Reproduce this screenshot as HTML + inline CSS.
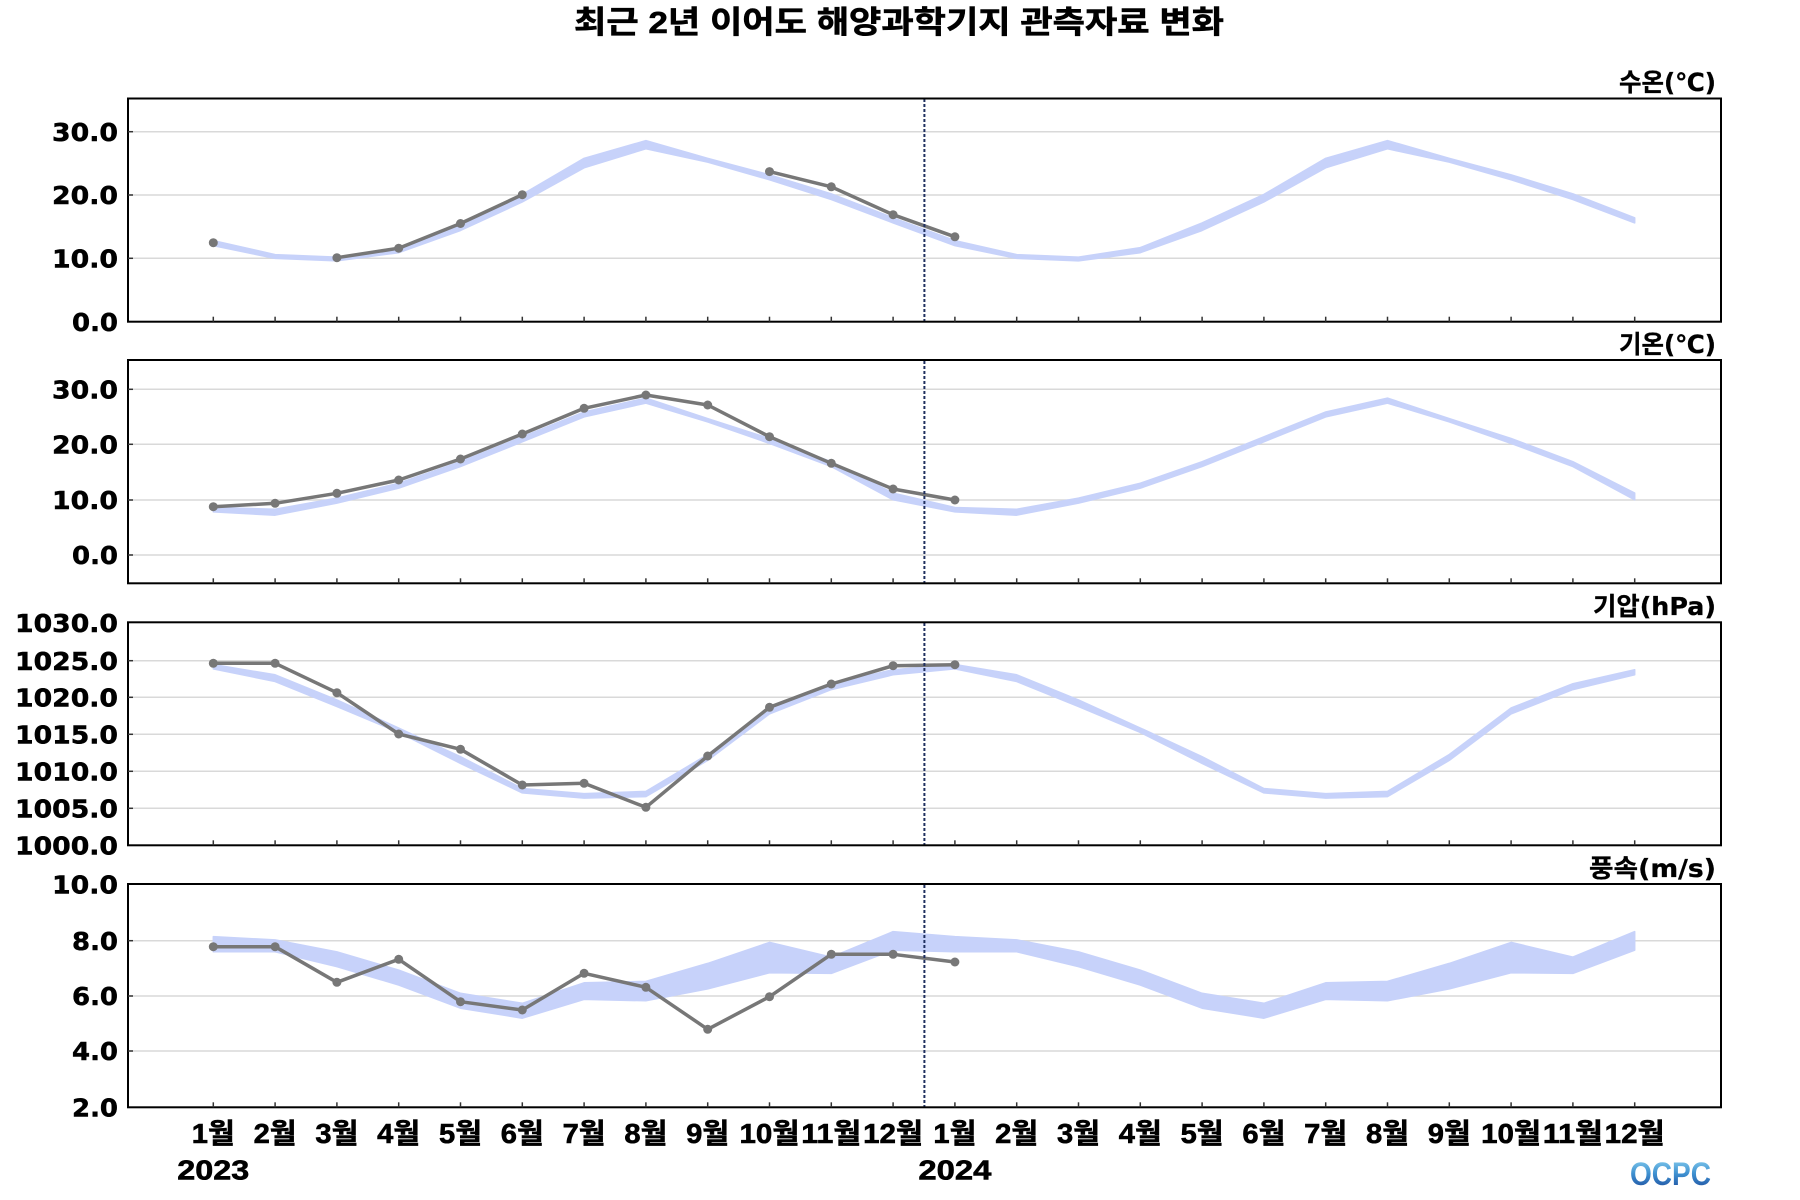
<!DOCTYPE html>
<html>
<head>
<meta charset="utf-8">
<style>
html,body{margin:0;padding:0;background:#fff;}
svg{display:block;}
.yl{font-family:"DejaVu Sans","Liberation Sans",sans-serif;font-weight:bold;font-size:25px;fill:#000;stroke:#000;stroke-width:0.5;}
.ml{font-family:"Liberation Sans","Noto Sans CJK KR",sans-serif;font-weight:bold;font-size:28px;fill:#000;stroke:#000;stroke-width:0.6;}
.ul{font-family:"DejaVu Sans","Noto Sans CJK KR",sans-serif;font-weight:bold;font-size:25px;fill:#000;stroke:#000;stroke-width:0.3;}
.tt{font-family:"Liberation Sans","Noto Sans CJK KR",sans-serif;font-weight:bold;font-size:31px;fill:#000;stroke:#000;stroke-width:0.6;}
.band{fill:#c7d2fa;stroke:#c7d2fa;stroke-width:1.5;stroke-linejoin:round;}
.obs{fill:none;stroke:#777;stroke-width:3.5;stroke-linejoin:round;}
.grid{stroke:#d9d9d9;stroke-width:1.5;}
.frame{fill:none;stroke:#000;stroke-width:2;}
.tick{stroke:#333;stroke-width:1.5;}
.vdot{stroke:#1f2f5f;stroke-width:2;stroke-dasharray:3 2;}
</style>
</head>
<body>
<svg width="1800" height="1200" viewBox="0 0 1800 1200" xmlns="http://www.w3.org/2000/svg">
<defs>
<linearGradient id="lg" x1="0" y1="0" x2="0" y2="1">
<stop offset="0" stop-color="#8fd6f2"/>
<stop offset="0.5" stop-color="#3d8fd0"/>
<stop offset="1" stop-color="#1a4596"/>
</linearGradient>
</defs>

<!-- Title -->
<text class="tt" x="899" y="33" text-anchor="middle" textLength="650" lengthAdjust="spacingAndGlyphs">최근 2년 이어도 해양과학기지 관측자료 변화</text>

<!-- ================= Panel 1 ================= -->
<g>
<line class="grid" x1="128" y1="131.7" x2="1721" y2="131.7"/>
<line class="grid" x1="128" y1="195" x2="1721" y2="195"/>
<line class="grid" x1="128" y1="258.3" x2="1721" y2="258.3"/>
<polygon class="band" points="213.3,240.6 275.1,254.6 336.9,257.1 398.7,247.6 460.5,222.9 522.3,194.4 584.1,158.3 645.9,140.6 707.7,158.3 769.5,174.8 831.3,193.8 893.1,217.8 954.9,240.6 1016.7,254.6 1078.5,257.1 1140.3,247.6 1202.1,222.9 1263.9,194.4 1325.7,158.3 1387.5,140.6 1449.3,158.3 1511.1,174.8 1572.9,193.8 1634.7,217.8 1634.7,222.9 1572.9,199.5 1511.1,179.8 1449.3,162.1 1387.5,148.8 1325.7,167.8 1263.9,202.0 1202.1,230.5 1140.3,252.7 1078.5,260.9 1016.7,258.4 954.9,245.7 893.1,222.9 831.3,199.5 769.5,179.8 707.7,162.1 645.9,148.8 584.1,167.8 522.3,202.0 460.5,230.5 398.7,252.7 336.9,260.9 275.1,258.4 213.3,245.7"/>
<polyline class="obs" points="336.9,257.7 398.7,248.2 460.5,223.5 522.3,194.7"/>
<polyline class="obs" points="769.5,171.6 831.3,186.8 893.1,214.7 954.9,236.8"/>
<g fill="#777">
<circle cx="213.3" cy="242.7" r="4.5"/>
<circle cx="336.9" cy="257.7" r="4.5"/>
<circle cx="398.7" cy="248.2" r="4.5"/>
<circle cx="460.5" cy="223.5" r="4.5"/>
<circle cx="522.3" cy="194.7" r="4.5"/>
<circle cx="769.5" cy="171.6" r="4.5"/>
<circle cx="831.3" cy="186.8" r="4.5"/>
<circle cx="893.1" cy="214.7" r="4.5"/>
<circle cx="954.9" cy="236.8" r="4.5"/>
</g>
<line class="vdot" x1="924.4" y1="99" x2="924.4" y2="321"/>
<rect class="frame" x="128" y="98.5" width="1593" height="223.2"/>
<g class="tick">
<line x1="213.3" y1="316.7" x2="213.3" y2="321.7"/><line x1="275.1" y1="316.7" x2="275.1" y2="321.7"/><line x1="336.9" y1="316.7" x2="336.9" y2="321.7"/><line x1="398.7" y1="316.7" x2="398.7" y2="321.7"/><line x1="460.5" y1="316.7" x2="460.5" y2="321.7"/><line x1="522.3" y1="316.7" x2="522.3" y2="321.7"/><line x1="584.1" y1="316.7" x2="584.1" y2="321.7"/><line x1="645.9" y1="316.7" x2="645.9" y2="321.7"/><line x1="707.7" y1="316.7" x2="707.7" y2="321.7"/><line x1="769.5" y1="316.7" x2="769.5" y2="321.7"/><line x1="831.3" y1="316.7" x2="831.3" y2="321.7"/><line x1="893.1" y1="316.7" x2="893.1" y2="321.7"/><line x1="954.9" y1="316.7" x2="954.9" y2="321.7"/><line x1="1016.7" y1="316.7" x2="1016.7" y2="321.7"/><line x1="1078.5" y1="316.7" x2="1078.5" y2="321.7"/><line x1="1140.3" y1="316.7" x2="1140.3" y2="321.7"/><line x1="1202.1" y1="316.7" x2="1202.1" y2="321.7"/><line x1="1263.9" y1="316.7" x2="1263.9" y2="321.7"/><line x1="1325.7" y1="316.7" x2="1325.7" y2="321.7"/><line x1="1387.5" y1="316.7" x2="1387.5" y2="321.7"/><line x1="1449.3" y1="316.7" x2="1449.3" y2="321.7"/><line x1="1511.1" y1="316.7" x2="1511.1" y2="321.7"/><line x1="1572.9" y1="316.7" x2="1572.9" y2="321.7"/><line x1="1634.7" y1="316.7" x2="1634.7" y2="321.7"/>
<line x1="128" y1="131.7" x2="133" y2="131.7"/><line x1="128" y1="195" x2="133" y2="195"/><line x1="128" y1="258.3" x2="133" y2="258.3"/>
</g>
<text class="yl" x="118" y="140.8" text-anchor="end" textLength="66" lengthAdjust="spacingAndGlyphs">30.0</text>
<text class="yl" x="118" y="204.1" text-anchor="end" textLength="66" lengthAdjust="spacingAndGlyphs">20.0</text>
<text class="yl" x="118" y="267.4" text-anchor="end" textLength="66" lengthAdjust="spacingAndGlyphs">10.0</text>
<text class="yl" x="118" y="330.8" text-anchor="end" textLength="46" lengthAdjust="spacingAndGlyphs">0.0</text>
<text class="ul" x="1716" y="91" text-anchor="end" textLength="97" lengthAdjust="spacingAndGlyphs">수온(℃)</text>
</g>

<!-- ================= Panel 2 ================= -->
<g>
<line class="grid" x1="128" y1="389.3" x2="1721" y2="389.3"/>
<line class="grid" x1="128" y1="444.3" x2="1721" y2="444.3"/>
<line class="grid" x1="128" y1="500" x2="1721" y2="500"/>
<line class="grid" x1="128" y1="555" x2="1721" y2="555"/>
<polygon class="band" points="213.3,507.5 275.1,509.2 336.9,498.1 398.7,483.2 460.5,461.7 522.3,436.8 584.1,412.0 645.9,398.1 707.7,418.6 769.5,438.5 831.3,461.7 893.1,493.1 954.9,507.5 1016.7,509.2 1078.5,498.1 1140.3,483.2 1202.1,461.7 1263.9,436.8 1325.7,412.0 1387.5,398.1 1449.3,418.6 1511.1,438.5 1572.9,461.7 1634.7,493.1 1634.7,499.8 1572.9,466.6 1511.1,443.4 1449.3,421.9 1387.5,403.1 1325.7,416.9 1263.9,441.8 1202.1,466.6 1140.3,488.2 1078.5,503.1 1016.7,515.2 954.9,511.9 893.1,499.8 831.3,466.6 769.5,443.4 707.7,421.9 645.9,403.1 584.1,416.9 522.3,441.8 460.5,466.6 398.7,488.2 336.9,503.1 275.1,515.2 213.3,511.9"/>
<polyline class="obs" points="213.3,506.7 275.1,503.3 336.9,493.3 398.7,480 460.5,459 522.3,434 584.1,408.3 645.9,395 707.7,405 769.5,436.7 831.3,463.3 893.1,489 954.9,500"/>
<g fill="#777">
<circle cx="213.3" cy="506.7" r="4.5"/><circle cx="275.1" cy="503.3" r="4.5"/><circle cx="336.9" cy="493.3" r="4.5"/><circle cx="398.7" cy="480" r="4.5"/><circle cx="460.5" cy="459" r="4.5"/><circle cx="522.3" cy="434" r="4.5"/><circle cx="584.1" cy="408.3" r="4.5"/><circle cx="645.9" cy="395" r="4.5"/><circle cx="707.7" cy="405" r="4.5"/><circle cx="769.5" cy="436.7" r="4.5"/><circle cx="831.3" cy="463.3" r="4.5"/><circle cx="893.1" cy="489" r="4.5"/><circle cx="954.9" cy="500" r="4.5"/>
</g>
<line class="vdot" x1="924.4" y1="361" x2="924.4" y2="583"/>
<rect class="frame" x="128" y="360" width="1593" height="223.3"/>
<g class="tick">
<line x1="213.3" y1="578.3" x2="213.3" y2="583.3"/><line x1="275.1" y1="578.3" x2="275.1" y2="583.3"/><line x1="336.9" y1="578.3" x2="336.9" y2="583.3"/><line x1="398.7" y1="578.3" x2="398.7" y2="583.3"/><line x1="460.5" y1="578.3" x2="460.5" y2="583.3"/><line x1="522.3" y1="578.3" x2="522.3" y2="583.3"/><line x1="584.1" y1="578.3" x2="584.1" y2="583.3"/><line x1="645.9" y1="578.3" x2="645.9" y2="583.3"/><line x1="707.7" y1="578.3" x2="707.7" y2="583.3"/><line x1="769.5" y1="578.3" x2="769.5" y2="583.3"/><line x1="831.3" y1="578.3" x2="831.3" y2="583.3"/><line x1="893.1" y1="578.3" x2="893.1" y2="583.3"/><line x1="954.9" y1="578.3" x2="954.9" y2="583.3"/><line x1="1016.7" y1="578.3" x2="1016.7" y2="583.3"/><line x1="1078.5" y1="578.3" x2="1078.5" y2="583.3"/><line x1="1140.3" y1="578.3" x2="1140.3" y2="583.3"/><line x1="1202.1" y1="578.3" x2="1202.1" y2="583.3"/><line x1="1263.9" y1="578.3" x2="1263.9" y2="583.3"/><line x1="1325.7" y1="578.3" x2="1325.7" y2="583.3"/><line x1="1387.5" y1="578.3" x2="1387.5" y2="583.3"/><line x1="1449.3" y1="578.3" x2="1449.3" y2="583.3"/><line x1="1511.1" y1="578.3" x2="1511.1" y2="583.3"/><line x1="1572.9" y1="578.3" x2="1572.9" y2="583.3"/><line x1="1634.7" y1="578.3" x2="1634.7" y2="583.3"/>
<line x1="128" y1="389.3" x2="133" y2="389.3"/><line x1="128" y1="444.3" x2="133" y2="444.3"/><line x1="128" y1="500" x2="133" y2="500"/><line x1="128" y1="555" x2="133" y2="555"/>
</g>
<text class="yl" x="118" y="398.4" text-anchor="end" textLength="66" lengthAdjust="spacingAndGlyphs">30.0</text>
<text class="yl" x="118" y="453.4" text-anchor="end" textLength="66" lengthAdjust="spacingAndGlyphs">20.0</text>
<text class="yl" x="118" y="509.1" text-anchor="end" textLength="66" lengthAdjust="spacingAndGlyphs">10.0</text>
<text class="yl" x="118" y="564.1" text-anchor="end" textLength="46" lengthAdjust="spacingAndGlyphs">0.0</text>
<text class="ul" x="1716" y="353" text-anchor="end" textLength="97" lengthAdjust="spacingAndGlyphs">기온(℃)</text>
</g>

<!-- ================= Panel 3 ================= -->
<g>
<line class="grid" x1="128" y1="660.7" x2="1721" y2="660.7"/>
<line class="grid" x1="128" y1="697.3" x2="1721" y2="697.3"/>
<line class="grid" x1="128" y1="734.3" x2="1721" y2="734.3"/>
<line class="grid" x1="128" y1="771.3" x2="1721" y2="771.3"/>
<line class="grid" x1="128" y1="808.3" x2="1721" y2="808.3"/>
<polygon class="band" points="213.3,664.5 275.1,674.8 336.9,699.9 398.7,728.0 460.5,756.7 522.3,788.5 584.1,793.6 645.9,791.4 707.7,754.5 769.5,708.0 831.3,683.7 893.1,669.7 954.9,664.5 1016.7,674.8 1078.5,699.9 1140.3,728.0 1202.1,756.7 1263.9,788.5 1325.7,793.6 1387.5,791.4 1449.3,754.5 1511.1,708.0 1572.9,683.7 1634.7,669.7 1634.7,674.8 1572.9,689.6 1511.1,713.9 1449.3,760.4 1387.5,796.6 1325.7,798.1 1263.9,792.9 1202.1,763.4 1140.3,732.4 1078.5,706.6 1016.7,681.5 954.9,668.9 893.1,674.8 831.3,689.6 769.5,713.9 707.7,760.4 645.9,796.6 584.1,798.1 522.3,792.9 460.5,763.4 398.7,732.4 336.9,706.6 275.1,681.5 213.3,668.9"/>
<polyline class="obs" points="213.3,663.3 275.1,663.3 336.9,692.7 398.7,734 460.5,749.3 522.3,785 584.1,783.3 645.9,807.3 707.7,756 769.5,707.3 831.3,684 893.1,665.7 954.9,664.7"/>
<g fill="#777">
<circle cx="213.3" cy="663.3" r="4.5"/><circle cx="275.1" cy="663.3" r="4.5"/><circle cx="336.9" cy="692.7" r="4.5"/><circle cx="398.7" cy="734" r="4.5"/><circle cx="460.5" cy="749.3" r="4.5"/><circle cx="522.3" cy="785" r="4.5"/><circle cx="584.1" cy="783.3" r="4.5"/><circle cx="645.9" cy="807.3" r="4.5"/><circle cx="707.7" cy="756" r="4.5"/><circle cx="769.5" cy="707.3" r="4.5"/><circle cx="831.3" cy="684" r="4.5"/><circle cx="893.1" cy="665.7" r="4.5"/><circle cx="954.9" cy="664.7" r="4.5"/>
</g>
<line class="vdot" x1="924.4" y1="623" x2="924.4" y2="845"/>
<rect class="frame" x="128" y="622.3" width="1593" height="223"/>
<g class="tick">
<line x1="213.3" y1="840.3" x2="213.3" y2="845.3"/><line x1="275.1" y1="840.3" x2="275.1" y2="845.3"/><line x1="336.9" y1="840.3" x2="336.9" y2="845.3"/><line x1="398.7" y1="840.3" x2="398.7" y2="845.3"/><line x1="460.5" y1="840.3" x2="460.5" y2="845.3"/><line x1="522.3" y1="840.3" x2="522.3" y2="845.3"/><line x1="584.1" y1="840.3" x2="584.1" y2="845.3"/><line x1="645.9" y1="840.3" x2="645.9" y2="845.3"/><line x1="707.7" y1="840.3" x2="707.7" y2="845.3"/><line x1="769.5" y1="840.3" x2="769.5" y2="845.3"/><line x1="831.3" y1="840.3" x2="831.3" y2="845.3"/><line x1="893.1" y1="840.3" x2="893.1" y2="845.3"/><line x1="954.9" y1="840.3" x2="954.9" y2="845.3"/><line x1="1016.7" y1="840.3" x2="1016.7" y2="845.3"/><line x1="1078.5" y1="840.3" x2="1078.5" y2="845.3"/><line x1="1140.3" y1="840.3" x2="1140.3" y2="845.3"/><line x1="1202.1" y1="840.3" x2="1202.1" y2="845.3"/><line x1="1263.9" y1="840.3" x2="1263.9" y2="845.3"/><line x1="1325.7" y1="840.3" x2="1325.7" y2="845.3"/><line x1="1387.5" y1="840.3" x2="1387.5" y2="845.3"/><line x1="1449.3" y1="840.3" x2="1449.3" y2="845.3"/><line x1="1511.1" y1="840.3" x2="1511.1" y2="845.3"/><line x1="1572.9" y1="840.3" x2="1572.9" y2="845.3"/><line x1="1634.7" y1="840.3" x2="1634.7" y2="845.3"/>
<line x1="128" y1="660.7" x2="133" y2="660.7"/><line x1="128" y1="697.3" x2="133" y2="697.3"/><line x1="128" y1="734.3" x2="133" y2="734.3"/><line x1="128" y1="771.3" x2="133" y2="771.3"/><line x1="128" y1="808.3" x2="133" y2="808.3"/>
</g>
<text class="yl" x="118" y="632" text-anchor="end" textLength="103" lengthAdjust="spacingAndGlyphs">1030.0</text>
<text class="yl" x="118" y="669.8" text-anchor="end" textLength="103" lengthAdjust="spacingAndGlyphs">1025.0</text>
<text class="yl" x="118" y="706.4" text-anchor="end" textLength="103" lengthAdjust="spacingAndGlyphs">1020.0</text>
<text class="yl" x="118" y="743.4" text-anchor="end" textLength="103" lengthAdjust="spacingAndGlyphs">1015.0</text>
<text class="yl" x="118" y="780.4" text-anchor="end" textLength="103" lengthAdjust="spacingAndGlyphs">1010.0</text>
<text class="yl" x="118" y="817.4" text-anchor="end" textLength="103" lengthAdjust="spacingAndGlyphs">1005.0</text>
<text class="yl" x="118" y="854.4" text-anchor="end" textLength="103" lengthAdjust="spacingAndGlyphs">1000.0</text>
<text class="ul" x="1716" y="615" text-anchor="end" textLength="123" lengthAdjust="spacingAndGlyphs">기압(hPa)</text>
</g>

<!-- ================= Panel 4 ================= -->
<g>
<line class="grid" x1="128" y1="940.7" x2="1721" y2="940.7"/>
<line class="grid" x1="128" y1="996" x2="1721" y2="996"/>
<line class="grid" x1="128" y1="1051" x2="1721" y2="1051"/>
<polygon class="band" points="213.3,936.6 275.1,939.9 336.9,951.8 398.7,970.1 460.5,993.3 522.3,1003.3 584.1,982.8 645.9,981.4 707.7,963.4 769.5,942.4 831.3,957.1 893.1,931.6 954.9,936.6 1016.7,939.9 1078.5,951.8 1140.3,970.1 1202.1,993.3 1263.9,1003.3 1325.7,982.8 1387.5,981.4 1449.3,963.4 1511.1,942.4 1572.9,957.1 1634.7,931.6 1634.7,950.2 1572.9,973.4 1511.1,972.8 1449.3,988.9 1387.5,1000.8 1325.7,999.4 1263.9,1018.2 1202.1,1008.2 1140.3,985.0 1078.5,966.7 1016.7,951.8 954.9,951.8 893.1,950.2 831.3,973.4 769.5,972.8 707.7,988.9 645.9,1000.8 584.1,999.4 522.3,1018.2 460.5,1008.2 398.7,985.0 336.9,966.7 275.1,951.8 213.3,951.8"/>
<polyline class="obs" points="213.3,946.7 275.1,946.7 336.9,982.3 398.7,959.3 460.5,1001.7 522.3,1010 584.1,973.3 645.9,987.3 707.7,1029.3 769.5,996.7 831.3,954.3 893.1,954.3 954.9,962"/>
<g fill="#777">
<circle cx="213.3" cy="946.7" r="4.5"/><circle cx="275.1" cy="946.7" r="4.5"/><circle cx="336.9" cy="982.3" r="4.5"/><circle cx="398.7" cy="959.3" r="4.5"/><circle cx="460.5" cy="1001.7" r="4.5"/><circle cx="522.3" cy="1010" r="4.5"/><circle cx="584.1" cy="973.3" r="4.5"/><circle cx="645.9" cy="987.3" r="4.5"/><circle cx="707.7" cy="1029.3" r="4.5"/><circle cx="769.5" cy="996.7" r="4.5"/><circle cx="831.3" cy="954.3" r="4.5"/><circle cx="893.1" cy="954.3" r="4.5"/><circle cx="954.9" cy="962" r="4.5"/>
</g>
<line class="vdot" x1="924.4" y1="885" x2="924.4" y2="1107"/>
<rect class="frame" x="128" y="884" width="1593" height="223.3"/>
<g class="tick">
<line x1="213.3" y1="1102.3" x2="213.3" y2="1107.3"/><line x1="275.1" y1="1102.3" x2="275.1" y2="1107.3"/><line x1="336.9" y1="1102.3" x2="336.9" y2="1107.3"/><line x1="398.7" y1="1102.3" x2="398.7" y2="1107.3"/><line x1="460.5" y1="1102.3" x2="460.5" y2="1107.3"/><line x1="522.3" y1="1102.3" x2="522.3" y2="1107.3"/><line x1="584.1" y1="1102.3" x2="584.1" y2="1107.3"/><line x1="645.9" y1="1102.3" x2="645.9" y2="1107.3"/><line x1="707.7" y1="1102.3" x2="707.7" y2="1107.3"/><line x1="769.5" y1="1102.3" x2="769.5" y2="1107.3"/><line x1="831.3" y1="1102.3" x2="831.3" y2="1107.3"/><line x1="893.1" y1="1102.3" x2="893.1" y2="1107.3"/><line x1="954.9" y1="1102.3" x2="954.9" y2="1107.3"/><line x1="1016.7" y1="1102.3" x2="1016.7" y2="1107.3"/><line x1="1078.5" y1="1102.3" x2="1078.5" y2="1107.3"/><line x1="1140.3" y1="1102.3" x2="1140.3" y2="1107.3"/><line x1="1202.1" y1="1102.3" x2="1202.1" y2="1107.3"/><line x1="1263.9" y1="1102.3" x2="1263.9" y2="1107.3"/><line x1="1325.7" y1="1102.3" x2="1325.7" y2="1107.3"/><line x1="1387.5" y1="1102.3" x2="1387.5" y2="1107.3"/><line x1="1449.3" y1="1102.3" x2="1449.3" y2="1107.3"/><line x1="1511.1" y1="1102.3" x2="1511.1" y2="1107.3"/><line x1="1572.9" y1="1102.3" x2="1572.9" y2="1107.3"/><line x1="1634.7" y1="1102.3" x2="1634.7" y2="1107.3"/>
<line x1="128" y1="940.7" x2="133" y2="940.7"/><line x1="128" y1="996" x2="133" y2="996"/><line x1="128" y1="1051" x2="133" y2="1051"/>
</g>
<text class="yl" x="118" y="893.5" text-anchor="end" textLength="66" lengthAdjust="spacingAndGlyphs">10.0</text>
<text class="yl" x="118" y="949.8" text-anchor="end" textLength="46" lengthAdjust="spacingAndGlyphs">8.0</text>
<text class="yl" x="118" y="1005.1" text-anchor="end" textLength="46" lengthAdjust="spacingAndGlyphs">6.0</text>
<text class="yl" x="118" y="1060.1" text-anchor="end" textLength="46" lengthAdjust="spacingAndGlyphs">4.0</text>
<text class="yl" x="118" y="1116.4" text-anchor="end" textLength="46" lengthAdjust="spacingAndGlyphs">2.0</text>
<text class="ul" x="1716" y="877" text-anchor="end" textLength="127" lengthAdjust="spacingAndGlyphs">풍속(m/s)</text>
</g>

<!-- Month labels -->
<g class="ml" text-anchor="middle">
<text x="213.3" y="1143" textLength="43" lengthAdjust="spacingAndGlyphs">1월</text>
<text x="275.1" y="1143" textLength="43" lengthAdjust="spacingAndGlyphs">2월</text>
<text x="336.9" y="1143" textLength="43" lengthAdjust="spacingAndGlyphs">3월</text>
<text x="398.7" y="1143" textLength="43" lengthAdjust="spacingAndGlyphs">4월</text>
<text x="460.5" y="1143" textLength="43" lengthAdjust="spacingAndGlyphs">5월</text>
<text x="522.3" y="1143" textLength="43" lengthAdjust="spacingAndGlyphs">6월</text>
<text x="584.1" y="1143" textLength="43" lengthAdjust="spacingAndGlyphs">7월</text>
<text x="645.9" y="1143" textLength="43" lengthAdjust="spacingAndGlyphs">8월</text>
<text x="707.7" y="1143" textLength="43" lengthAdjust="spacingAndGlyphs">9월</text>
<text x="769.5" y="1143" textLength="60" lengthAdjust="spacingAndGlyphs">10월</text>
<text x="831.3" y="1143" textLength="60" lengthAdjust="spacingAndGlyphs">11월</text>
<text x="893.1" y="1143" textLength="60" lengthAdjust="spacingAndGlyphs">12월</text>
<text x="954.9" y="1143" textLength="43" lengthAdjust="spacingAndGlyphs">1월</text>
<text x="1016.7" y="1143" textLength="43" lengthAdjust="spacingAndGlyphs">2월</text>
<text x="1078.5" y="1143" textLength="43" lengthAdjust="spacingAndGlyphs">3월</text>
<text x="1140.3" y="1143" textLength="43" lengthAdjust="spacingAndGlyphs">4월</text>
<text x="1202.1" y="1143" textLength="43" lengthAdjust="spacingAndGlyphs">5월</text>
<text x="1263.9" y="1143" textLength="43" lengthAdjust="spacingAndGlyphs">6월</text>
<text x="1325.7" y="1143" textLength="43" lengthAdjust="spacingAndGlyphs">7월</text>
<text x="1387.5" y="1143" textLength="43" lengthAdjust="spacingAndGlyphs">8월</text>
<text x="1449.3" y="1143" textLength="43" lengthAdjust="spacingAndGlyphs">9월</text>
<text x="1511.1" y="1143" textLength="60" lengthAdjust="spacingAndGlyphs">10월</text>
<text x="1572.9" y="1143" textLength="60" lengthAdjust="spacingAndGlyphs">11월</text>
<text x="1634.7" y="1143" textLength="60" lengthAdjust="spacingAndGlyphs">12월</text>
<text x="213.3" y="1179.5" textLength="72" lengthAdjust="spacingAndGlyphs">2023</text>
<text x="954.9" y="1179.5" textLength="73" lengthAdjust="spacingAndGlyphs">2024</text>
</g>

<!-- Logo -->
<text x="1630" y="1185" font-family="Liberation Sans, sans-serif" font-weight="bold" font-size="32" fill="url(#lg)" textLength="81" lengthAdjust="spacingAndGlyphs">OCPC</text>
</svg>
</body>
</html>
